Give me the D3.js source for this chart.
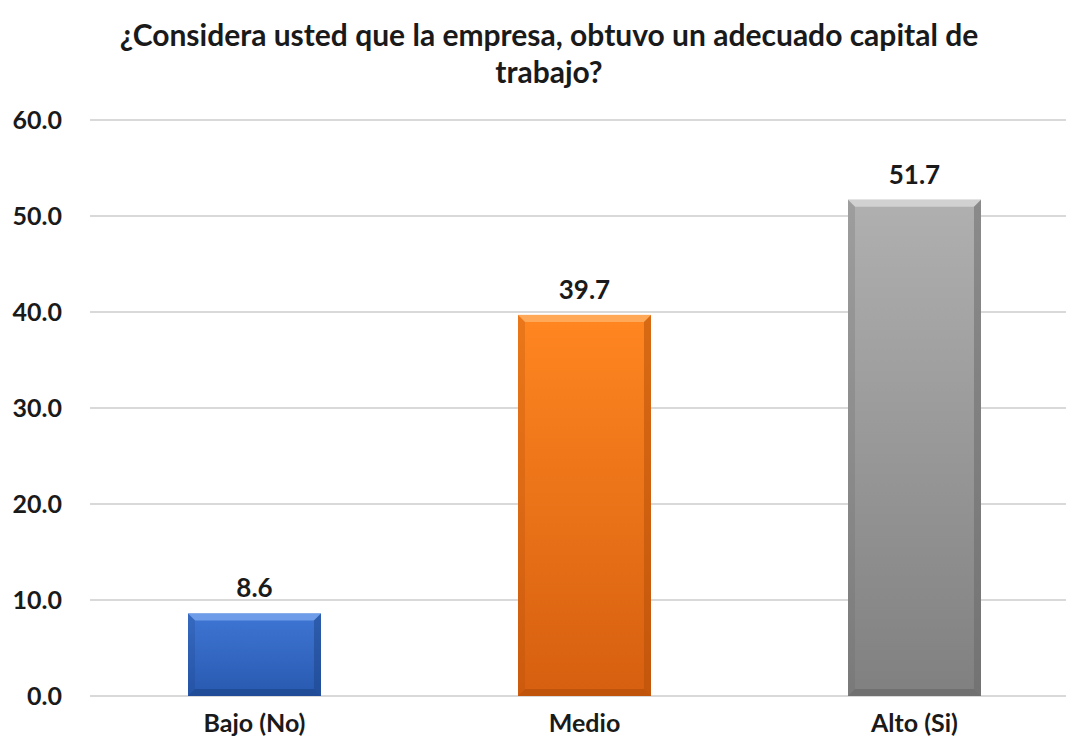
<!DOCTYPE html>
<meta charset="utf-8">
<head>
<style>
body { margin: 0; background: #fff; }
text { font-family: Lato, "Open Sans", sans-serif; font-weight: bold; fill: #1a1a1a; }
.grid line { stroke: #d9d9d9; stroke-width: 2px; }
.title { font-size: 30px; }
.ytick { font-size: 25px; }
.xtick { font-size: 25px; }
.value { font-size: 26px; }
</style>
<title>Capital de trabajo</title>
</head>
<body>
<svg id="chart" width="1066" height="744"></svg>
<script src="https://d3js.org/d3.v7.min.js"></script>
<script>
var categories = ["Bajo (No)", "Medio", "Alto (Si)"];
var values = [8.6, 39.7, 51.7];
var yTicks = [0, 10, 20, 30, 40, 50, 60];
var titleLines = ["¿Considera usted que la empresa, obtuvo un adecuado capital de", "trabajo?"];

var colors = [
  {top: "#3f76d4", bottom: "#2859b0", light: "#7aa6ee", dark: "#1c4386"},
  {top: "#ff8620", bottom: "#d65f10", light: "#ffb066", dark: "#b14d08"},
  {top: "#b0b0b0", bottom: "#808080", light: "#dadada", dark: "#666666"}
];

var svg = d3.select("#chart");

var x = d3.scaleBand()
    .domain(categories)
    .range([89.5, 1079.5])
    .paddingInner(0.597)
    .paddingOuter(0.2985);

var y = d3.scaleLinear()
    .domain([0, 60])
    .range([696, 120]);

// title
svg.append("g").selectAll("text")
  .data(titleLines)
  .enter().append("text")
    .attr("class", "title")
    .attr("x", 549)
    .attr("y", function(d, i) { return 46 + i * 37; })
    .attr("text-anchor", "middle")
    .text(function(d) { return d; });

// gridlines
svg.append("g")
    .attr("class", "grid")
  .selectAll("line")
  .data(yTicks)
  .enter().append("line")
    .attr("x1", 90)
    .attr("x2", 1066)
    .attr("y1", function(d) { return y(d); })
    .attr("y2", function(d) { return y(d); });

// y labels
svg.append("g").selectAll("text")
  .data(yTicks)
  .enter().append("text")
    .attr("class", "ytick")
    .attr("x", 62)
    .attr("y", function(d) { return y(d); })
    .attr("dy", "0.36em")
    .attr("text-anchor", "end")
    .text(function(d) { return d3.format(".1f")(d); });

// gradients
var defs = svg.append("defs");
colors.forEach(function(c, i) {
  var g = defs.append("linearGradient")
      .attr("id", "grad" + i)
      .attr("x1", 0).attr("y1", 0).attr("x2", 0).attr("y2", 1);
  g.append("stop").attr("offset", "0%").attr("stop-color", c.top);
  g.append("stop").attr("offset", "100%").attr("stop-color", c.bottom);
});

// bars with bevel
var bev = 7;
var bars = svg.append("g").selectAll("g")
  .data(values)
  .enter().append("g");

bars.each(function(d, i) {
  var g = d3.select(this);
  var x0 = x(categories[i]), x1 = x0 + x.bandwidth();
  var y0 = y(d), y1 = y(0);
  var c = colors[i];
  g.append("rect")
      .attr("x", x0).attr("y", y0)
      .attr("width", x1 - x0).attr("height", y1 - y0)
      .attr("fill", "url(#grad" + i + ")");
  function poly(pts, fill, op) {
    g.append("polygon")
        .attr("points", pts.map(function(p) { return p.join(","); }).join(" "))
        .attr("fill", fill)
        .attr("opacity", op);
  }
  poly([[x0, y0], [x1, y0], [x1 - bev, y0 + bev], [x0 + bev, y0 + bev]], c.light, 0.8);
  poly([[x0, y0], [x0 + bev, y0 + bev], [x0 + bev, y1 - bev], [x0, y1]], c.dark, 0.25);
  poly([[x1, y0], [x1, y1], [x1 - bev, y1 - bev], [x1 - bev, y0 + bev]], c.dark, 0.5);
  poly([[x0, y1], [x0 + bev, y1 - bev], [x1 - bev, y1 - bev], [x1, y1]], c.dark, 0.6);
});

// value labels
svg.append("g").selectAll("text")
  .data(values)
  .enter().append("text")
    .attr("class", "value")
    .attr("x", function(d, i) { return x(categories[i]) + x.bandwidth() / 2; })
    .attr("y", function(d) { return y(d) - 16; })
    .attr("text-anchor", "middle")
    .text(function(d) { return d3.format(".1f")(d); });

// category labels
svg.append("g").selectAll("text")
  .data(categories)
  .enter().append("text")
    .attr("class", "xtick")
    .attr("x", function(d) { return x(d) + x.bandwidth() / 2; })
    .attr("y", 732)
    .attr("text-anchor", "middle")
    .text(function(d) { return d; });
</script>
</body>
